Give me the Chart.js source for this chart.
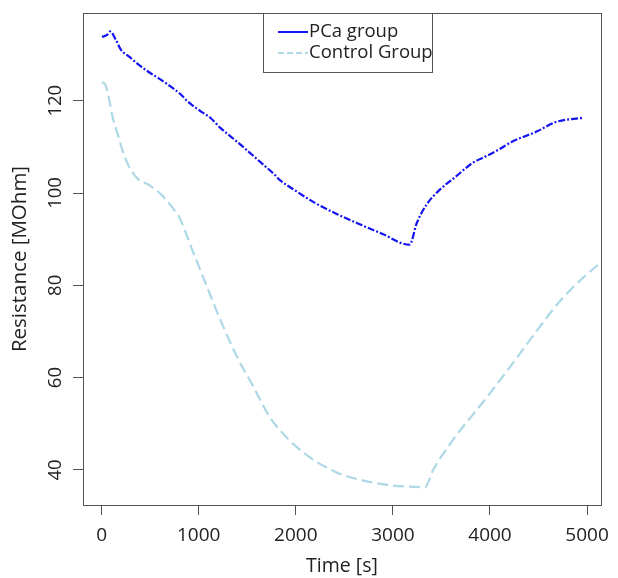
<!DOCTYPE html>
<html><head><meta charset="utf-8">
<script src="https://cdn.jsdelivr.net/npm/chart.js@4.4.1/dist/chart.umd.min.js"></script>
<style>html,body{margin:0;padding:0;background:#fff}#wrap{width:618px;height:578px;position:relative}</style>
</head><body><div id="wrap"><canvas id="c" width="618" height="578"></canvas></div>
<script>
const pcaTime = [4, 60, 88, 146, 196, 280, 381, 500, 583, 682, 819, 885, 1021, 1122, 1223, 1390, 1527, 1662, 1780, 1830, 1982, 2201, 2437, 2673, 2876, 3172, 3246, 3347, 3482, 3650, 3819, 3953, 4089, 4226, 4479, 4681, 4954];
const pcaRes  = [133.8, 134.3, 135.0, 133.2, 131.1, 129.6, 127.8, 126.0, 124.9, 123.5, 121.3, 119.85, 117.7, 116.25, 114.1, 111.2, 108.7, 106.2, 104.0, 102.9, 100.7, 97.8, 95.3, 93.1, 91.3, 88.8, 93.5, 97.5, 100.7, 103.6, 106.5, 107.9, 109.4, 111.1, 113.3, 115.4, 116.3];
const ctrlTime = [4, 37, 78, 111, 162, 212, 280, 381, 482, 617, 718, 803, 920, 1056, 1223, 1392, 1561, 1729, 1898, 2134, 2403, 2673, 2942, 3145, 3330, 3415, 3618, 3921, 4224, 4527, 4730, 5110, 5150];
const ctrlRes  = [124.0, 123.5, 120.2, 116.6, 113.0, 109.4, 105.8, 102.9, 101.8, 99.6, 97.1, 94.6, 88.4, 81.2, 72.5, 64.6, 58.1, 51.55, 47.2, 42.9, 39.6, 37.8, 36.75, 36.4, 36.25, 40.0, 46.5, 54.5, 62.8, 71.4, 76.8, 84.4, 85.0];
const seriesNames = ['PCa group', 'Control Group'];
const xTicks = [0, 1000, 2000, 3000, 4000, 5000];
const yTicks = [40, 60, 80, 100, 120];
const xLimits = [-192, 5143];
const yLimits = [32.4, 139.0];
const xTitle = 'Time [s]';
const yTitle = 'Resistance [MOhm]';

const FONT = "'Open Sans', sans-serif";
const AXIS = '#555555';
const TXT = '#222222';
const PCA_COLOR = '#1414f0';
const CTRL_COLOR = '#add8e6';
const PCA_DASH = [7, 2, 2, 2];
const CTRL_DASH = [11, 5];

const boxAndLabels = {
  id: 'boxAndLabels',
  afterDraw(chart) {
    const {ctx, chartArea: a, scales} = chart;
    ctx.save();
    ctx.strokeStyle = AXIS; ctx.lineWidth = 1; ctx.setLineDash([]);
    ctx.strokeRect(Math.round(a.left) + 0.5, Math.round(a.top) + 0.5, Math.round(a.right - a.left), Math.round(a.bottom - a.top));
    // y tick labels, rotated like R
    ctx.fillStyle = TXT; ctx.font = "18.5px " + FONT;
    ctx.textAlign = 'center'; ctx.textBaseline = 'middle';
    yTicks.forEach(v => {
      const y = scales.y.getPixelForValue(v);
      ctx.save(); ctx.translate(56, y); ctx.rotate(-Math.PI / 2);
      ctx.fillText(String(v), 0, 0); ctx.restore();
    });
    // legend
    const L = 263, T = Math.round(a.top), R = 432, B = 72;
    ctx.fillStyle = '#fff'; ctx.fillRect(L, T, R - L, B - T);
    ctx.strokeStyle = AXIS; ctx.strokeRect(L + 0.5, T + 0.5, R - L, B - T);
    const rows = [{y: 32, c: PCA_COLOR, d: []}, {y: 53, c: CTRL_COLOR, d: [6, 3]}];
    rows.forEach((r, i) => {
      ctx.strokeStyle = r.c; ctx.lineWidth = 2; ctx.setLineDash(r.d);
      ctx.beginPath(); ctx.moveTo(278, r.y); ctx.lineTo(308, r.y); ctx.stroke();
      ctx.setLineDash([]);
      ctx.fillStyle = TXT; ctx.font = "18.5px " + FONT; ctx.textAlign = 'left'; ctx.textBaseline = 'middle';
      ctx.fillText(seriesNames[i], 309, r.y);
    });
    ctx.restore();
  }
};

new Chart(document.getElementById('c'), {
  type: 'line',
  data: {
    datasets: [
      {label: seriesNames[0], data: pcaTime.map((t, i) => ({x: t, y: pcaRes[i]})), borderColor: PCA_COLOR, borderWidth: 2.2, borderDash: PCA_DASH, pointRadius: 0, cubicInterpolationMode: 'monotone', fill: false},
      {label: seriesNames[1], data: ctrlTime.map((t, i) => ({x: t, y: ctrlRes[i]})), borderColor: CTRL_COLOR, borderWidth: 2.2, borderDash: CTRL_DASH, pointRadius: 0, cubicInterpolationMode: 'monotone', fill: false}
    ]
  },
  options: {
    responsive: false, animation: false, devicePixelRatio: 1,
    layout: {padding: {left: 0, right: 7, top: 13, bottom: 0}},
    plugins: {legend: {display: false}, tooltip: {enabled: false}},
    scales: {
      x: {
        type: 'linear', min: xLimits[0], max: xLimits[1],
        afterBuildTicks: s => { s.ticks = xTicks.map(v => ({value: v})); },
        afterFit: s => { s.height = 73; },
        border: {display: false},
        grid: {drawOnChartArea: false, drawTicks: true, tickLength: 10, tickColor: AXIS, color: AXIS},
        ticks: {font: {family: FONT, size: 19}, color: TXT, padding: 9, maxRotation: 0, autoSkip: false, callback: v => String(v)},
        title: {display: true, text: xTitle, font: {family: FONT, size: 19.5}, color: TXT, padding: {top: 0, bottom: 0}}
      },
      y: {
        type: 'linear', min: yLimits[0], max: yLimits[1],
        afterBuildTicks: s => { s.ticks = yTicks.map(v => ({value: v})); },
        afterFit: s => { s.width = 83; },
        border: {display: false},
        grid: {drawOnChartArea: false, drawTicks: true, tickLength: 10, tickColor: AXIS, color: AXIS},
        ticks: {display: false},
        title: {display: true, text: yTitle, font: {family: FONT, size: 20.5}, color: TXT, padding: {top: 8, bottom: 0}}
      }
    }
  },
  plugins: [boxAndLabels]
});
</script></body></html>
